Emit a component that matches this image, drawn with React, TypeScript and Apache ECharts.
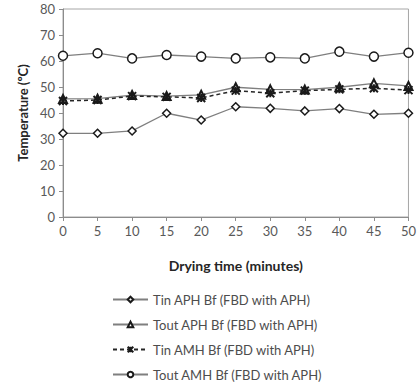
import React, { useEffect, useRef } from "react";
import * as echarts from "echarts";

const times = [0, 5, 10, 15, 20, 25, 30, 35, 40, 45, 50];
const tinAPH = [32.2, 32.2, 33.1, 39.9, 37.3, 42.4, 41.8, 40.8, 41.7, 39.5, 39.9];
const toutAPH = [45.4, 45.5, 46.9, 46.5, 47.0, 49.9, 49.1, 49.0, 49.9, 51.4, 50.4];
const tinAMH = [44.6, 45.0, 46.5, 46.2, 45.8, 48.6, 47.6, 48.6, 49.1, 49.5, 48.8];
const toutAMH = [62.0, 63.0, 61.0, 62.3, 61.7, 61.0, 61.4, 61.0, 63.6, 61.7, 63.2];
const seriesNames = [
  "Tin APH Bf (FBD with APH)",
  "Tout APH Bf (FBD with APH)",
  "Tin AMH Bf (FBD with APH)",
  "Tout AMH Bf (FBD with APH)",
];

const pair = (ys: number[]) => times.map((t, i) => [t, ys[i]]);
const FONT = "Lato, 'Open Sans', sans-serif";
const starPath = "path://M0,0L10,10M10,0L0,10M5,0L5,10";

export default function App() {
  const ref = useRef<HTMLDivElement>(null);
  useEffect(() => {
    const chart = echarts.init(ref.current!, null, { renderer: "svg" });
    const lineGray = "#7f7f7f";
    chart.setOption({
      animation: false,
      backgroundColor: "#fff",
      grid: {
        left: 63,
        right: 8,
        top: 9,
        bottom: 172,
        show: true,
        borderColor: "#a6a6a6",
        borderWidth: 1,
      },
      xAxis: {
        type: "value",
        min: 0,
        max: 50,
        interval: 5,
        name: "Drying time (minutes)",
        nameLocation: "middle",
        nameGap: 41,
        nameTextStyle: { fontFamily: FONT, fontWeight: "bold", fontSize: 14, color: "#262626" },
        axisLine: { lineStyle: { color: "#8c8c8c" } },
        axisTick: { show: true, length: 4, lineStyle: { color: "#8c8c8c" } },
        axisLabel: { fontFamily: FONT, fontSize: 13, color: "#595959", margin: 7 },
        splitLine: { show: false },
      },
      yAxis: {
        type: "value",
        min: 0,
        max: 80,
        interval: 10,
        name: "Temperature (ºC)",
        nameLocation: "middle",
        nameGap: 34,
        nameTextStyle: { fontFamily: FONT, fontWeight: "bold", fontSize: 13, color: "#262626" },
        axisLine: { show: true, lineStyle: { color: "#8c8c8c" } },
        axisTick: { show: true, length: 4, lineStyle: { color: "#8c8c8c" } },
        axisLabel: { fontFamily: FONT, fontSize: 13, color: "#595959", margin: 8 },
        splitLine: { show: false },
      },
      legend: {
        orient: "vertical",
        left: 112,
        top: 292,
        bottom: 0,
        padding: 0,
        itemWidth: 35,
        itemHeight: 7,
        itemGap: 10,
        textStyle: { fontFamily: FONT, fontSize: 13, color: "#4d4d4d", lineHeight: 15 },
        data: seriesNames,
      },
      series: [
        {
          name: seriesNames[0],
          type: "line",
          data: pair(tinAPH),
          symbol: "diamond",
          symbolSize: 8,
          lineStyle: { color: lineGray, width: 1.3 },
          itemStyle: { color: "#fff", borderColor: "#1a1a1a", borderWidth: 1.5 },
        },
        {
          name: seriesNames[1],
          type: "line",
          data: pair(toutAPH),
          symbol: "triangle",
          symbolSize: 8,
          lineStyle: { color: lineGray, width: 1.3 },
          itemStyle: { color: "#fff", borderColor: "#1a1a1a", borderWidth: 2 },
        },
        {
          name: seriesNames[2],
          type: "line",
          data: pair(tinAMH),
          symbol: starPath,
          symbolSize: 8,
          lineStyle: { color: "#262626", width: 1.5, type: [4, 3] },
          itemStyle: { color: "#1a1a1a", borderColor: "#1a1a1a", borderWidth: 2 },
        },
        {
          name: seriesNames[3],
          type: "line",
          data: pair(toutAMH),
          symbol: "circle",
          symbolSize: 9,
          lineStyle: { color: lineGray, width: 1.3 },
          itemStyle: { color: "#fff", borderColor: "#1a1a1a", borderWidth: 1.5 },
        },
      ],
    });
    return () => chart.dispose();
  }, []);
  return <div ref={ref} style={{ width: 419, height: 389, position: "absolute", left: 0, top: 0 }} />;
}
